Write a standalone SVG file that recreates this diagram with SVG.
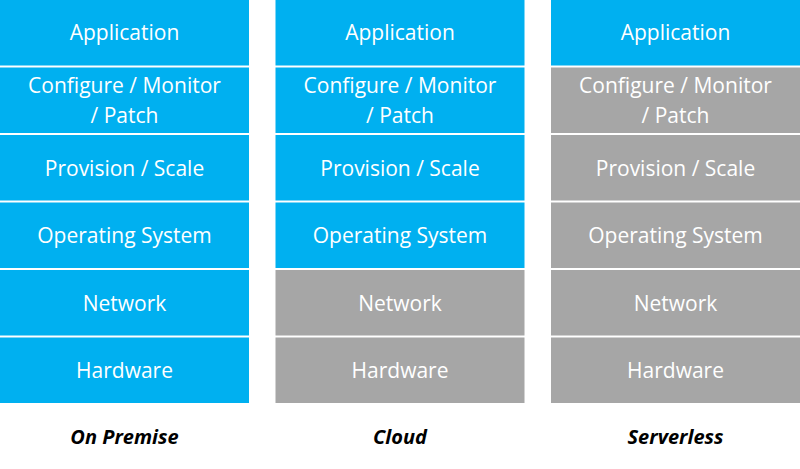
<svg xmlns="http://www.w3.org/2000/svg" width="800" height="469" viewBox="0 0 800 469">
<style>
.b{fill:#00B0F0}.g{fill:#A6A6A6}
text{font-family:"Open Sans","Liberation Sans",sans-serif;font-size:21px;fill:#fff;text-anchor:middle}
.l{fill:#000;font-weight:bold;font-style:italic;font-size:20px}
</style>
<rect width="800" height="469" fill="#fff"/>
<g id="onprem">
<rect class="b" x="0" y="0" width="249" height="65.5"/>
<rect class="b" x="0" y="67.5" width="249" height="65.5"/>
<rect class="b" x="0" y="135" width="249" height="65.5"/>
<rect class="b" x="0" y="202.5" width="249" height="65.5"/>
<rect class="b" x="0" y="270" width="249" height="65.5"/>
<rect class="b" x="0" y="337.5" width="249" height="65.5"/>
<text x="124.5" y="40">Application</text>
<text x="124.5" y="93">Configure / Monitor</text>
<text x="124.5" y="123">/ Patch</text>
<text x="124.5" y="176">Provision / Scale</text>
<text x="124.5" y="243">Operating System</text>
<text x="124.5" y="311">Network</text>
<text x="124.5" y="378">Hardware</text>
<text class="l" x="124.5" y="444">On Premise</text>
</g>
<g id="cloud">
<rect class="b" x="275.5" y="0" width="249" height="65.5"/>
<rect class="b" x="275.5" y="67.5" width="249" height="65.5"/>
<rect class="b" x="275.5" y="135" width="249" height="65.5"/>
<rect class="b" x="275.5" y="202.5" width="249" height="65.5"/>
<rect class="g" x="275.5" y="270" width="249" height="65.5"/>
<rect class="g" x="275.5" y="337.5" width="249" height="65.5"/>
<text x="400" y="40">Application</text>
<text x="400" y="93">Configure / Monitor</text>
<text x="400" y="123">/ Patch</text>
<text x="400" y="176">Provision / Scale</text>
<text x="400" y="243">Operating System</text>
<text x="400" y="311">Network</text>
<text x="400" y="378">Hardware</text>
<text class="l" x="400" y="444">Cloud</text>
</g>
<g id="serverless">
<rect class="b" x="551" y="0" width="249" height="65.5"/>
<rect class="g" x="551" y="67.5" width="249" height="65.5"/>
<rect class="g" x="551" y="135" width="249" height="65.5"/>
<rect class="g" x="551" y="202.5" width="249" height="65.5"/>
<rect class="g" x="551" y="270" width="249" height="65.5"/>
<rect class="g" x="551" y="337.5" width="249" height="65.5"/>
<text x="675.5" y="40">Application</text>
<text x="675.5" y="93">Configure / Monitor</text>
<text x="675.5" y="123">/ Patch</text>
<text x="675.5" y="176">Provision / Scale</text>
<text x="675.5" y="243">Operating System</text>
<text x="675.5" y="311">Network</text>
<text x="675.5" y="378">Hardware</text>
<text class="l" x="675.5" y="444">Serverless</text>
</g>
<g id="connectors"/>
</svg>
